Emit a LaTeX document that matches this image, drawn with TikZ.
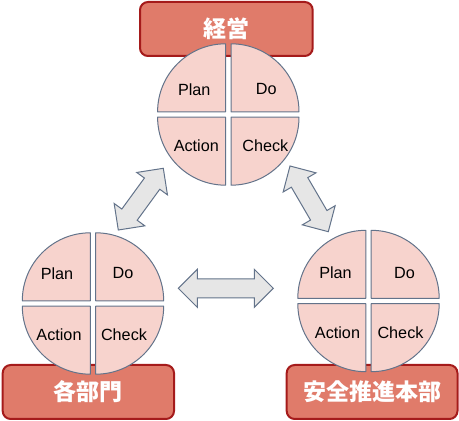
\documentclass[tikz,border=0pt]{standalone}
\usepackage{fontspec}
\setmainfont{Liberation Sans}
\newfontfamily\jpfont{Noto Sans CJK JP}
\usetikzlibrary{calc}
\definecolor{boxfill}{HTML}{E07B6A}
\definecolor{boxline}{HTML}{A51B1B}
\definecolor{piefill}{HTML}{F7D3CD}
\definecolor{edgeline}{HTML}{63738A}
\definecolor{arrowfill}{HTML}{E6E6E6}
\tikzset{
  orgbox/.style={draw=boxline, line width=2pt, fill=boxfill, rounded corners=8pt},
  orglabel/.style={text=white, font=\jpfont\bfseries\fontsize{23}{23}\selectfont, inner sep=0pt},
  sector/.style={draw=edgeline, line width=1pt, fill=piefill, line join=round},
  phase/.style={font=\fontsize{16.2}{16.2}\selectfont, inner sep=0pt},
  blockarrow/.style={draw=edgeline, line width=1pt, fill=arrowfill, line join=miter},
}
% #1 name, #2 Plan x, #3 Do x, #4 Action x, #5 Check x, #6 upper y, #7 lower y
\newcommand\pdcacircle[7]{%
  \draw[sector] ($(#1)+(-2.7,2.7)$) -- ++(-68,0) arc[start angle=180,end angle=90,radius=68pt] -- cycle;
  \draw[sector] ($(#1)+(2.7,2.7)$) -- ++(68,0) arc[start angle=0,end angle=90,radius=68pt] -- cycle;
  \draw[sector] ($(#1)+(-2.7,-2.7)$) -- ++(-68,0) arc[start angle=180,end angle=270,radius=68pt] -- cycle;
  \draw[sector] ($(#1)+(2.7,-2.7)$) -- ++(68,0) arc[start angle=0,end angle=-90,radius=68pt] -- cycle;
  \node[phase] (#1-plan) at ($(#1)+(#2,#6)$) {Plan};
  \node[phase] (#1-do) at ($(#1)+(#3,#6)$) {Do};
  \node[phase] (#1-action) at ($(#1)+(#4,#7)$) {Action};
  \node[phase] (#1-check) at ($(#1)+(#5,#7)$) {Check};
}
\newcommand\doublearrow[2]{%
  \draw[blockarrow] (#1)
   -- ($($(#1)!19pt!(#2)$)!19pt!90:(#2)$)
   -- ($($(#1)!19pt!(#2)$)!9.5pt!90:(#2)$)
   -- ($($(#2)!19pt!(#1)$)!9.5pt!-90:(#1)$)
   -- ($($(#2)!19pt!(#1)$)!19pt!-90:(#1)$)
   -- (#2)
   -- ($($(#2)!19pt!(#1)$)!19pt!90:(#1)$)
   -- ($($(#2)!19pt!(#1)$)!9.5pt!90:(#1)$)
   -- ($($(#1)!19pt!(#2)$)!9.5pt!-90:(#2)$)
   -- ($($(#1)!19pt!(#2)$)!19pt!-90:(#2)$)
   -- cycle;}
\begin{document}
\begin{tikzpicture}[x=1pt,y=1pt]
  \useasboundingbox (0,0) rectangle (459,421);
  % organisation boxes
  \draw[orgbox] (140,365) rectangle (312.7,419);
  \node[orglabel] (keiei) at (226,392.5) {経営};
  \draw[orgbox] (2.7,2) rectangle (174,56);
  \node[orglabel] (bumon) at (88.3,29) {各部門};
  \draw[orgbox] (286.7,2) rectangle (457.5,56);
  \node[orglabel] (anzen) at (372.3,29) {安全推進本部};
  % PDCA circles
  \coordinate (top) at (228.3,306.5);
  \coordinate (left) at (93,117.5);
  \coordinate (right) at (368.5,120);
  \pdcacircle{top}{-34}{38}{-32}{37}{25}{-31}
  \pdcacircle{left}{-36}{30}{-34}{31}{30}{-31.5}
  \pdcacircle{right}{-33}{36}{-31}{32}{28}{-32}
  % block arrows
  \coordinate (la1) at (163.3,252.7);
  \coordinate (la2) at (118.3,191);
  \coordinate (ra1) at (290,255);
  \coordinate (ra2) at (328.3,189.3);
  \coordinate (ha1) at (178.3,132.7);
  \coordinate (ha2) at (273.3,132.7);
  \doublearrow{la1}{la2}
  \doublearrow{ra1}{ra2}
  \doublearrow{ha1}{ha2}
\end{tikzpicture}
\end{document}
